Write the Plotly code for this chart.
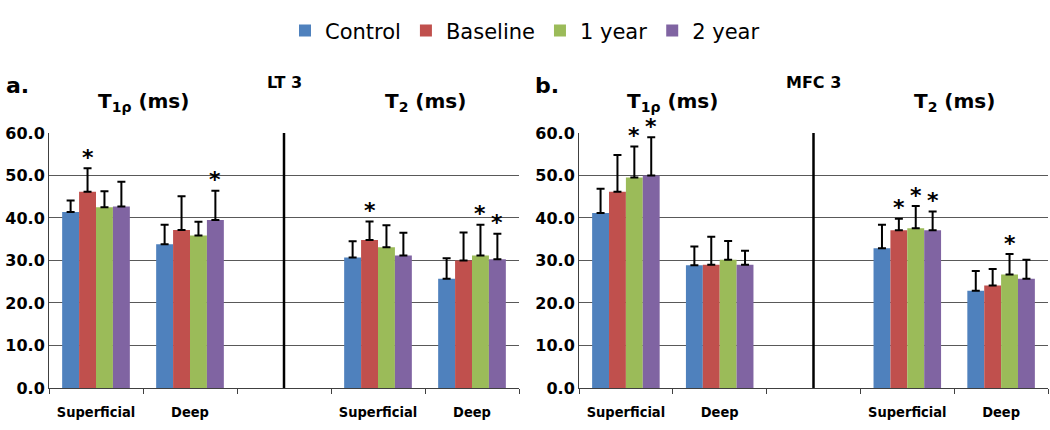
import plotly.graph_objects as go

# categories / positions (slot 2 is the empty gap between T1rho and T2)
cats = ["Superficial", "Deep", "Superficial", "Deep"]
x_pos = [0.5, 1.5, 3.5, 4.5]
slot_edges = [0, 1, 2, 3, 4, 5]
series = ["Control", "Baseline", "1 year", "2 year"]
colors = ["#4F81BD", "#C0504D", "#9BBB59", "#8064A2"]

# LT 3 means and SD (order: sup T1rho, deep T1rho, sup T2, deep T2)
lt3_control = [41.4, 33.8, 30.7, 25.7]
lt3_baseline = [46.2, 37.2, 34.8, 30.0]
lt3_year1 = [42.5, 35.9, 33.1, 31.2]
lt3_year2 = [42.7, 39.5, 31.2, 30.3]
lt3_control_sd = [2.7, 4.6, 3.8, 4.8]
lt3_baseline_sd = [5.5, 7.9, 4.4, 6.6]
lt3_year1_sd = [3.8, 3.2, 5.2, 7.2]
lt3_year2_sd = [5.8, 6.9, 5.3, 6.0]

# MFC 3
mfc3_control = [41.2, 28.9, 32.9, 22.9]
mfc3_baseline = [46.2, 29.0, 37.1, 24.1]
mfc3_year1 = [49.5, 30.2, 37.6, 26.7]
mfc3_year2 = [50.0, 29.0, 37.1, 25.7]
mfc3_control_sd = [5.7, 4.4, 5.5, 4.6]
mfc3_baseline_sd = [8.6, 6.6, 2.7, 3.9]
mfc3_year1_sd = [7.3, 4.4, 5.2, 4.8]
mfc3_year2_sd = [9.0, 3.3, 4.4, 4.5]

# significance stars: (position index, series index)
lt3_stars = [(0, 1), (1, 3), (2, 1), (3, 2), (3, 3)]
mfc3_stars = [(0, 2), (0, 3), (2, 1), (2, 2), (2, 3), (3, 2)]

BARGAP = 0.28
bar_w = (1 - BARGAP) / 4

panels = [
    dict(xa="x", ya="y", label="a.", site="LT 3",
         means=[lt3_control, lt3_baseline, lt3_year1, lt3_year2],
         sds=[lt3_control_sd, lt3_baseline_sd, lt3_year1_sd, lt3_year2_sd],
         stars=lt3_stars),
    dict(xa="x2", ya="y2", label="b.", site="MFC 3",
         means=[mfc3_control, mfc3_baseline, mfc3_year1, mfc3_year2],
         sds=[mfc3_control_sd, mfc3_baseline_sd, mfc3_year1_sd, mfc3_year2_sd],
         stars=mfc3_stars),
]

fig = go.Figure()
annotations = []
shapes = []

for p_i, p in enumerate(panels):
    for s_i, name in enumerate(series):
        fig.add_trace(go.Bar(
            x=x_pos, y=p["means"][s_i], name=name,
            marker=dict(color=colors[s_i], line=dict(width=0)),
            error_y=dict(type="data", array=p["sds"][s_i], arrayminus=[0] * 4,
                         symmetric=False, color="black", thickness=2, width=4),
            xaxis=p["xa"], yaxis=p["ya"], showlegend=(p_i == 0),
            legendgroup=name,
        ))
    # stars
    for pos_i, s_i in p["stars"]:
        xs = x_pos[pos_i] - (1 - BARGAP) / 2 + bar_w * (s_i + 0.5)
        ys = p["means"][s_i][pos_i] + p["sds"][s_i][pos_i]
        annotations.append(dict(x=xs, y=ys, xref=p["xa"], yref=p["ya"], text="<b>*</b>",
                                showarrow=False, yanchor="middle", yshift=11,
                                font=dict(size=22, family="DejaVu Sans", color="black")))
    # headers
    hfont = dict(size=20, family="DejaVu Sans", color="black", weight="bold")
    annotations.append(dict(x=1, y=0.763, xref=p["xa"], yref="paper", text="T<sub>1ρ</sub> (ms)",
                            yanchor="middle", showarrow=False, font=hfont))
    annotations.append(dict(x=4, y=0.763, xref=p["xa"], yref="paper", text="T<sub>2</sub> (ms)",
                            yanchor="middle", showarrow=False, font=hfont))
    annotations.append(dict(x=2.5, y=0.807, xref=p["xa"], yref="paper", text=p["site"],
                            yanchor="middle", showarrow=False,
                            font=dict(size=16, family="DejaVu Sans", color="black", weight="bold")))
    # divider
    shapes.append(dict(type="line", xref=p["xa"], yref=p["ya"], x0=2.5, x1=2.5, y0=0, y1=60,
                       line=dict(color="black", width=2.5)))

lfont = dict(size=22, family="DejaVu Sans", color="black", weight="bold")
annotations.append(dict(x=0.004, y=0.80, xref="paper", yref="paper", text="a.", xanchor="left",
                        yanchor="middle", showarrow=False, font=lfont))
annotations.append(dict(x=0.508, y=0.80, xref="paper", yref="paper", text="b.", xanchor="left",
                        yanchor="middle", showarrow=False, font=lfont))

xaxis_style = dict(
    range=[0, 5], tickvals=x_pos, ticktext=cats, ticks="outside", ticklen=11,
    tickcolor="rgba(0,0,0,0)", showgrid=False, zeroline=False, automargin=False,
    showline=True, linecolor="#404040", linewidth=1,
    minor=dict(tickvals=slot_edges, ticks="outside", ticklen=5, tickcolor="#404040", showgrid=False),
    tickfont=dict(size=14.5, family="DejaVu Sans Condensed", color="black", weight="bold"),
)
yaxis_style = dict(
    range=[0, 60], dtick=10, tickformat=".1f", showgrid=True, gridcolor="#595959", gridwidth=1,
    zeroline=False, showline=True, linecolor="#404040", linewidth=1, ticks="", automargin=False,
    domain=[0.0977, 0.6907],
    tickfont=dict(size=16, family="DejaVu Sans", color="black", weight="bold"),
)

fig.update_layout(
    width=1050, height=430,
    margin=dict(l=0, r=0, t=0, b=0, autoexpand=False),
    paper_bgcolor="white", plot_bgcolor="white",
    barmode="group", bargap=BARGAP, bargroupgap=0,
    xaxis=dict(xaxis_style, domain=[49 / 1050, 519 / 1050], anchor="y"),
    xaxis2=dict(xaxis_style, domain=[579 / 1050, 1048 / 1050], anchor="y2"),
    yaxis=dict(yaxis_style, anchor="x"),
    yaxis2=dict(yaxis_style, anchor="x2"),
    legend=dict(orientation="h", x=0.5, xanchor="center", y=0.928, yanchor="middle",
                font=dict(size=21, family="DejaVu Sans", color="black"), traceorder="normal"),
    annotations=annotations, shapes=shapes,
)

fig.write_html("out.html", config={"displayModeBar": False},
               post_script="document.body.style.margin='0';")
